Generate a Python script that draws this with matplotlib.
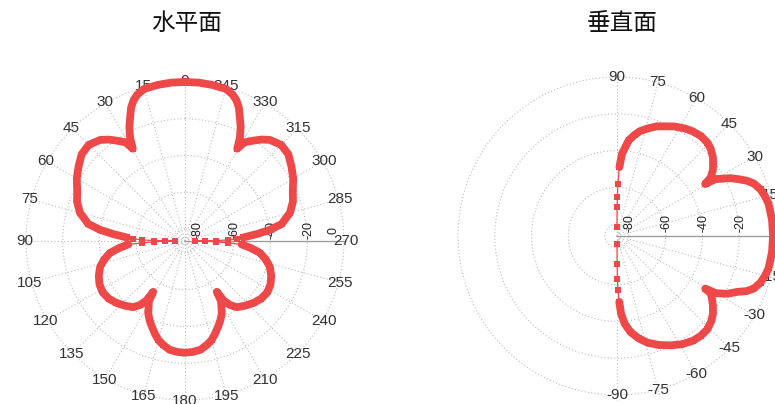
import numpy as np
import matplotlib
matplotlib.use('Agg')
import matplotlib.pyplot as plt

plt.rcParams['font.family'] = ['Liberation Sans', 'DejaVu Sans']

# ---------------- data ----------------
# horizontal plane pattern (angle in degrees, 0 at top, counter-clockwise), dB
h_angles = [0, 5, 10, 15, 18, 20, 22, 24, 26, 28, 29.5, 31, 34, 37, 40, 45, 50, 55, 60, 65,
            70, 75, 80, 82.5, 84.5, 86.5, 87.5, 88.5, 89.3, 90, 90.7, 91.5, 92.5, 93.5, 96,
            99, 103, 107, 112, 117, 122, 127, 132, 137, 142, 145, 147, 148, 149, 151, 153,
            156, 159, 162, 165, 168, 172, 176, 180,
            184, 188, 192, 195, 198, 201, 204, 207, 209, 211, 212, 213, 215, 218, 223, 228,
            233, 238, 243, 248, 253, 257, 261, 264, 266.5, 267.5, 268.5, 269.3, 270, 270.7,
            271.5, 272.5, 273.5, 275.5, 277.5, 280, 285, 290, 295, 300, 305, 310, 315, 320,
            323, 326, 329, 330.5, 332, 334, 336, 338, 340, 342, 345, 350, 355, 360]
h_db = [0.0, 0.0, -0.3, -0.8, -2.7, -4.9, -8.2, -13.1, -17.4, -22.9, -28.8, -23.9, -20.7,
        -17.4, -14.7, -12.5, -13.1, -15.8, -18.5, -21.8, -24.0, -27.4, -33.1, -39.9, -47.3,
        -54.7, -58.2, -63.1, -69.6, -81.0, -75.6, -69.6, -63.1, -55.6, -50.6, -45.2, -41.3,
        -38.2, -35.9, -34.3, -33.7, -34.5, -36.2, -38.4, -40.8, -44.1, -47.9, -53.9, -48.4,
        -45.7, -42.4, -39.2, -36.4, -33.5, -30.7, -28.8, -26.7, -26.0, -25.7,
        -26.0, -26.7, -28.8, -30.7, -33.5, -36.4, -39.2, -42.4, -45.7, -48.4, -53.9, -47.9,
        -44.1, -40.8, -38.4, -36.2, -34.5, -33.7, -34.3, -35.9, -38.2, -41.3, -45.2, -50.6,
        -55.6, -63.1, -69.6, -75.6, -81.0, -69.6, -63.1, -58.2, -54.7, -47.3, -39.9, -33.1,
        -27.4, -24.0, -21.8, -18.5, -15.8, -13.1, -12.5, -14.7, -17.4, -20.7, -23.9, -28.8,
        -22.9, -17.4, -13.1, -8.2, -4.9, -2.7, -0.8, -0.3, 0.0, 0.0]

# vertical plane pattern (angle in degrees, 0 at right, counter-clockwise), dB
v_angles = [-90, -89.8, -89.4, -89, -88, -87, -85, -82, -78, -74, -69, -64, -59, -54, -50,
            -46, -42, -39, -36, -33.5, -31.5, -30.8, -30, -27.5, -25, -23, -21, -18, -15,
            -12, -6, 0, 6, 12, 15, 18, 21, 23, 25, 27, 30, 30.5, 32, 34.5, 37, 39.5, 43, 46,
            50, 54.5, 58, 62.5, 66, 70, 74, 77.5, 80, 83, 86.5, 88, 89, 89.5, 89.8, 90]
v_db = [-82.3, -71.4, -63.3, -57.1, -50.6, -44.2, -38.6, -33.7, -29.5, -26.1, -23.0, -20.3,
        -17.8, -16.1, -15.6, -15.8, -17.4, -19.3, -22.0, -24.5, -26.7, -30.6, -24.2, -18.5,
        -14.5, -9.8, -6.8, -4.4, -3.1, -2.2, -1.7, -1.6, -1.7, -2.2, -3.1, -4.4, -6.8, -9.6,
        -13.4, -17.2, -24.6, -30.8, -26.4, -23.2, -21.0, -18.9, -16.8, -15.8, -15.5, -16.3,
        -17.4, -19.3, -21.2, -23.0, -25.6, -28.0, -30.5, -34.0, -41.6, -49.0, -58.2, -65.3,
        -70.7, -81.6]

h_tick_angles = list(range(0, 360, 15))
h_tick_labels = [str(a) for a in h_tick_angles]
v_tick_angles = [90, 75, 60, 45, 30, 15, 0, -15, -30, -45, -60, -75, -90]
v_tick_labels = [str(a) for a in v_tick_angles]
r_ticks = [-80, -60, -40, -20, 0]
r_tick_labels = ['-80', '-60', '-40', '-20', '0']
titles = ['水平面', '垂直面']

# ---------------- style ----------------
RED = '#EE4848'
GRID = '#bcbcbc'
TXT = '#333333'
RMIN, RMAX = -86.5, 3.0

W, H = 775, 404
fig = plt.figure(figsize=(W / 100, H / 100), dpi=100)
R = 164.5  # axes radius in px


def make_ax(cx, cy):
    rect = [(cx - R) / W, (H - cy - R) / H, 2 * R / W, 2 * R / H]
    ax = fig.add_axes(rect, projection='polar')
    ax.set_ylim(RMIN, RMAX)
    ax.spines['polar'].set_visible(False)
    ax.set_rgrids(r_ticks, labels=[''] * len(r_ticks))
    ax.grid(True, linestyle=(0, (1, 2)), color=GRID, lw=0.8)
    ax.tick_params(axis='both', length=0)
    return ax


def draw_curve(ax, ang, db):
    th = np.radians(np.array(ang, dtype=float))
    d = np.array(db, dtype=float)
    thick = np.where(d > -56, d, np.nan)
    ax.plot(th, d, '-', color=RED, lw=0.9, zorder=3)
    ax.plot(th, thick, '-', color=RED, lw=5.6, solid_joinstyle='round',
            solid_capstyle='round', zorder=3)
    ax.plot(th, d, 's', color=RED, ms=5.0, mec=RED, mew=0, zorder=4)


# ---- left: horizontal plane ----
axL = make_ax(185, 241)
axL.set_theta_zero_location('N')
axL.set_theta_direction(1)
axL.set_thetagrids(h_tick_angles, labels=[''] * len(h_tick_angles))
axL.plot([np.radians(270)] * 2, [RMIN, 0], color='#9a9a9a', lw=0.9, zorder=2)
draw_curve(axL, h_angles, h_db)
for a, lab in zip(h_tick_angles, h_tick_labels):
    axL.text(np.radians(a), 0.8, lab, ha='center', va='center', fontsize=11,
             color=TXT, zorder=2)
for rv, lab in zip(r_ticks, r_tick_labels):
    dx = 0.7 if rv != 0 else -7.9
    axL.annotate(lab, xy=(np.radians(270), rv), xytext=(dx, 7.9),
                 textcoords='offset points', rotation=90, ha='center', va='center',
                 fontsize=9, color='#222222', zorder=2)

# ---- right: vertical plane ----
axR = make_ax(617, 236)
axR.set_thetagrids([a % 360 for a in v_tick_angles], labels=[''] * len(v_tick_angles))
axR.plot([0, 0], [RMIN, 0], color='#9a9a9a', lw=0.9, zorder=2)
draw_curve(axR, v_angles, v_db)
for a, lab in zip(v_tick_angles, v_tick_labels):
    axR.text(np.radians(a), 0.0, lab, ha='center', va='center', fontsize=11,
             color=TXT, zorder=2)
for rv, lab in zip(r_ticks[:-1], r_tick_labels[:-1]):
    axR.annotate(lab, xy=(0, rv), xytext=(0.7, 9.4),
                 textcoords='offset points', rotation=90, ha='center', va='center',
                 fontsize=9, color='#222222', zorder=2)

# ---- titles ----
for x, t in zip([187, 622], titles):
    fig.text(x / W, 1 - 23 / H, t, ha='center', va='center', fontsize=17,
             color='#111111', family=['Noto Sans CJK SC', 'DejaVu Sans'])

fig.savefig('out.png', dpi=100)
